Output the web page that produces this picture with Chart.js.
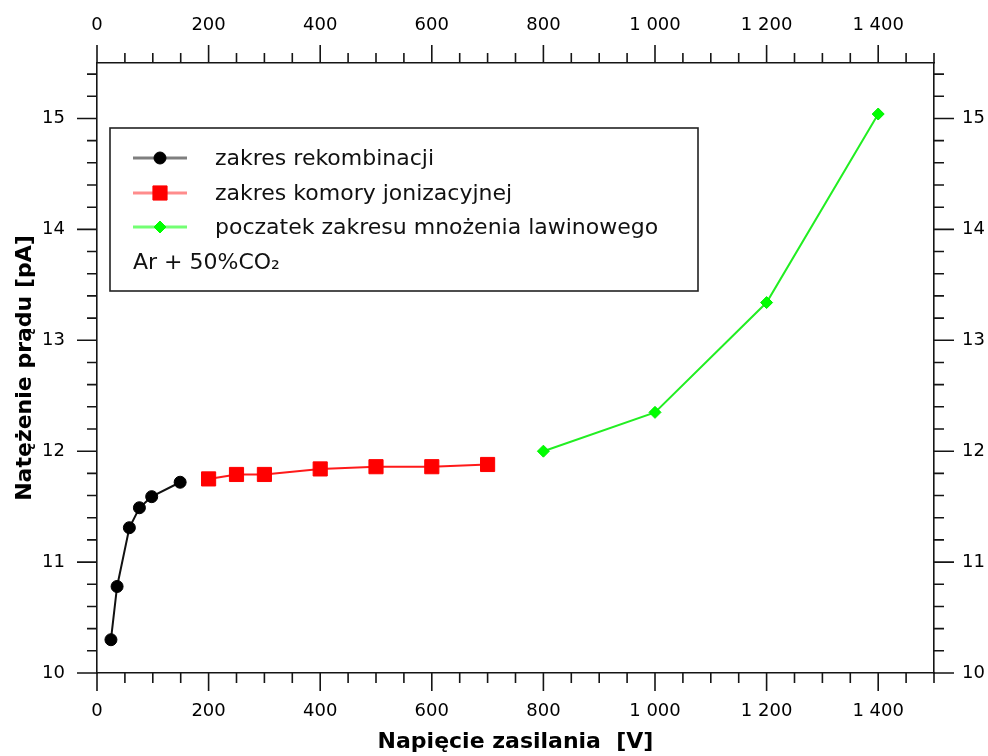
<!DOCTYPE html>
<html><head><meta charset="utf-8">
<script src="https://cdn.jsdelivr.net/npm/chart.js@4/dist/chart.umd.min.js"></script>
<style>html,body{margin:0;padding:0;background:#fff;}#wrap{width:988px;height:756px;}canvas{display:block;}</style>
</head><body><div id="wrap"><canvas id="c" width="988" height="756"></canvas></div>
<script>
// ---- data ----
const rekombX = [25, 36, 58, 76, 98, 149];
const rekombY = [10.30, 10.78, 11.31, 11.49, 11.59, 11.72];
const jonX = [200, 250, 300, 400, 500, 600, 700];
const jonY = [11.75, 11.79, 11.79, 11.84, 11.86, 11.86, 11.88];
const lawX = [800, 1000, 1200, 1400];
const lawY = [12.00, 12.35, 13.34, 15.04];
const seriesNames = ['zakres rekombinacji', 'zakres komory jonizacyjnej', 'poczatek zakresu mnożenia lawinowego'];
const gasLabel = 'Ar + 50%CO₂';
const xTitle = 'Napięcie zasilania  [V]';
const yTitle = 'Natężenie prądu [pA]';
const xTickValues = [0, 200, 400, 600, 800, 1000, 1200, 1400];
const xTickLabels = ['0', '200', '400', '600', '800', '1 000', '1 200', '1 400'];
const yTickValues = [10, 11, 12, 13, 14, 15];
const yTickLabels = ['10', '11', '12', '13', '14', '15'];

const pts = (xs, ys) => xs.map((x, i) => ({x: x, y: ys[i]}));

Chart.defaults.font.family = '"DejaVu Sans", Verdana, sans-serif';
Chart.defaults.color = '#000';

const AXIS = '#151515';

function xLabel(v) { const i = xTickValues.indexOf(v); return i >= 0 ? xTickLabels[i] : ''; }
function yLabel(v) { const i = yTickValues.indexOf(v); return i >= 0 ? yTickLabels[i] : ''; }

function xScale(pos, extra) {
  return Object.assign({
    type: 'linear', position: pos, min: 0, max: 1500,
    grid: {display: false, drawTicks: true, tickLength: 18},
    border: {display: true, color: AXIS, width: 1.6},
    ticks: {stepSize: 200, includeBounds: false, autoSkip: false, maxRotation: 0,
            font: {size: 18}, color: '#000', padding: pos === 'top' ? 9 : 10,
            callback: (v) => xLabel(v)}
  }, extra || {});
}
function yScale(pos, extra) {
  return Object.assign({
    type: 'linear', position: pos, min: 10, max: 15.5,
    grid: {display: false, drawTicks: true, tickLength: 20},
    border: {display: true, color: AXIS, width: 1.6},
    ticks: {stepSize: 1, includeBounds: false, autoSkip: false,
            font: {size: 18}, color: '#000', padding: pos === 'left' ? 12 : 8,
            callback: (v) => yLabel(v)}
  }, extra || {});
}

const tickMarks = {
  id: 'tickMarks',
  afterDraw(chart) {
    const ctx = chart.ctx, a = chart.chartArea;
    const xs = chart.scales.x, ys = chart.scales.y;
    ctx.save();
    ctx.strokeStyle = AXIS; ctx.lineWidth = 1.6;
    ctx.beginPath();
    for (let i = 0; i <= 30; i++) {
      const v = i * 50;
      const len = (v % 200 === 0) ? 18 : 10;
      const px = xs.getPixelForValue(v);
      ctx.moveTo(px, a.bottom); ctx.lineTo(px, a.bottom + len);
      ctx.moveTo(px, a.top); ctx.lineTo(px, a.top - len);
    }
    for (let i = 0; i <= 27; i++) {
      const v = 10 + i * 0.2;
      const len = (i % 5 === 0) ? 20 : 10;
      const py = ys.getPixelForValue(v);
      ctx.moveTo(a.left, py); ctx.lineTo(a.left - len, py);
      ctx.moveTo(a.right, py); ctx.lineTo(a.right + len, py);
    }
    ctx.stroke();
    ctx.restore();
  }
};

function drawMarker(ctx, style, x, y, r, fill) {
  ctx.fillStyle = fill; ctx.strokeStyle = fill; ctx.lineWidth = 1;
  ctx.beginPath();
  if (style === 'circle') { ctx.arc(x, y, r, 0, Math.PI * 2); }
  else if (style === 'rect') { const s = r * Math.SQRT1_2; ctx.rect(x - s, y - s, 2 * s, 2 * s); }
  else { ctx.moveTo(x, y - r); ctx.lineTo(x + r, y); ctx.lineTo(x, y + r); ctx.lineTo(x - r, y); ctx.closePath(); }
  ctx.fill(); ctx.stroke();
}

const boxLegend = {
  id: 'boxLegend',
  afterDraw(chart) {
    const ctx = chart.ctx;
    const bx = 110, by = 128, bw = 588, bh = 163;
    ctx.save();
    ctx.fillStyle = '#fff';
    ctx.fillRect(bx, by, bw, bh);
    ctx.strokeStyle = '#222'; ctx.lineWidth = 1.6;
    ctx.strokeRect(bx, by, bw, bh);
    const rows = [158, 193, 227];
    const lightCols = ['rgba(0,0,0,0.5)', 'rgba(255,0,0,0.45)', 'rgba(0,255,0,0.55)'];
    chart.data.datasets.forEach((ds, i) => {
      const y = rows[i];
      ctx.strokeStyle = lightCols[i]; ctx.lineWidth = 3;
      ctx.beginPath(); ctx.moveTo(133, y); ctx.lineTo(187, y); ctx.stroke();
      drawMarker(ctx, ds.pointStyle, 160, y, ds.pointRadius, ds.pointBackgroundColor);
      ctx.fillStyle = '#111';
      ctx.font = '22px "DejaVu Sans"';
      ctx.textBaseline = 'middle'; ctx.textAlign = 'left';
      ctx.fillText(ds.label, 215, y + 1);
    });
    ctx.fillStyle = '#111';
    ctx.font = '22px "DejaVu Sans"';
    ctx.textBaseline = 'middle';
    ctx.fillText(gasLabel, 133, 263);
    ctx.restore();
  }
};

new Chart(document.getElementById('c'), {
  type: 'line',
  data: {
    datasets: [
      {label: seriesNames[0], data: pts(rekombX, rekombY), borderColor: '#111', borderWidth: 2,
       pointStyle: 'circle', pointRadius: 6, pointBorderWidth: 1,
       pointBackgroundColor: '#000', pointBorderColor: '#000', xAxisID: 'x', yAxisID: 'y'},
      {label: seriesNames[1], data: pts(jonX, jonY), borderColor: '#ff1a1a', borderWidth: 2,
       pointStyle: 'rect', pointRadius: 10, pointBorderWidth: 1,
       pointBackgroundColor: '#ff0000', pointBorderColor: '#ff0000', xAxisID: 'x', yAxisID: 'y'},
      {label: seriesNames[2], data: pts(lawX, lawY), borderColor: '#22ee22', borderWidth: 2,
       pointStyle: 'rectRot', pointRadius: 6, pointBorderWidth: 1,
       pointBackgroundColor: '#00ff00', pointBorderColor: '#00ee00', xAxisID: 'x', yAxisID: 'y'}
    ]
  },
  options: {
    responsive: false, animation: false, events: [],
    layout: {padding: 0},
    plugins: {legend: {display: false}, tooltip: {enabled: false}},
    scales: {
      x: xScale('bottom', {title: {display: true, text: xTitle, font: {size: 22, weight: 'bold'}, color: '#000', padding: {top: 0, bottom: 1}},
                           afterFit: (s) => { s.height = 83; }}),
      x2: xScale('top', {afterFit: (s) => { s.height = 63; }}),
      y: yScale('left', {title: {display: true, text: yTitle, font: {size: 22, weight: 'bold'}, color: '#000', padding: {top: 12, bottom: 0}},
                         afterFit: (s) => { s.width = 97; }}),
      y2: yScale('right', {afterFit: (s) => { s.width = 54; }})
    }
  },
  plugins: [tickMarks, boxLegend]
});
</script>
</body></html>
